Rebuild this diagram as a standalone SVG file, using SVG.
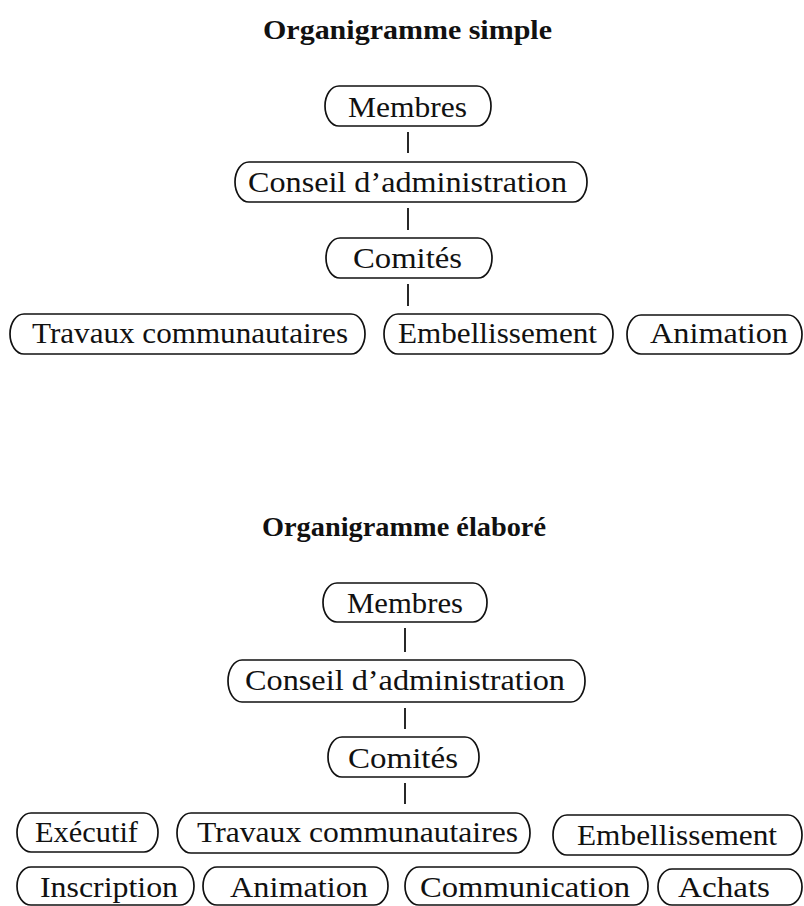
<svg xmlns="http://www.w3.org/2000/svg" width="804" height="906" viewBox="0 0 804 906">
<style>
.bg{fill:#ffffff}
.box{fill:#ffffff;stroke:#111;stroke-width:1.7}
.t{font-family:"Liberation Serif","Times New Roman",serif;font-size:29px;fill:#111}
.title{font-family:"Liberation Serif","Times New Roman",serif;font-size:28px;font-weight:bold;fill:#111}
.con line{stroke:#111;stroke-width:1.8}
</style>
<rect class="bg" x="0" y="0" width="804" height="906"/>

<text class="title" x="263" y="39" textLength="289" lengthAdjust="spacingAndGlyphs">Organigramme simple</text>
<text class="title" x="262" y="536" textLength="284" lengthAdjust="spacingAndGlyphs">Organigramme élaboré</text>

<g class="con" id="connectors">
  <line x1="408" y1="132" x2="408" y2="153"/>
  <line x1="408" y1="208" x2="408" y2="230"/>
  <line x1="408" y1="284" x2="408" y2="306"/>
  <line x1="405" y1="628" x2="405" y2="652"/>
  <line x1="405" y1="708" x2="405" y2="729"/>
  <line x1="405" y1="783" x2="405" y2="804"/>
</g>

<!-- Simple chart -->
<g id="s_membres"><rect class="box" x="325" y="86" width="166" height="40" rx="14" ry="20"/><text class="t" x="348" y="117" textLength="119" lengthAdjust="spacingAndGlyphs">Membres</text></g>
<g id="s_conseil"><rect class="box" x="235" y="162" width="352" height="40" rx="14" ry="20"/><text class="t" x="248" y="192" textLength="319" lengthAdjust="spacingAndGlyphs">Conseil d’administration</text></g>
<g id="s_comites"><rect class="box" x="326" y="238" width="166" height="40" rx="14" ry="20"/><text class="t" x="353" y="268" textLength="109" lengthAdjust="spacingAndGlyphs">Comités</text></g>
<g id="s_travaux"><rect class="box" x="10" y="314" width="355" height="40" rx="14" ry="20"/><text class="t" x="32" y="343" textLength="316" lengthAdjust="spacingAndGlyphs">Travaux communautaires</text></g>
<g id="s_embellissement"><rect class="box" x="384" y="314" width="229" height="40" rx="14" ry="20"/><text class="t" x="398" y="343" textLength="199" lengthAdjust="spacingAndGlyphs">Embellissement</text></g>
<g id="s_animation"><rect class="box" x="627" y="315" width="175" height="39" rx="14" ry="20"/><text class="t" x="650" y="343" textLength="138" lengthAdjust="spacingAndGlyphs">Animation</text></g>

<!-- Elaborate chart -->
<g id="e_membres"><rect class="box" x="323" y="583" width="164" height="39" rx="14" ry="20"/><text class="t" x="347" y="613" textLength="116" lengthAdjust="spacingAndGlyphs">Membres</text></g>
<g id="e_conseil"><rect class="box" x="228" y="660" width="357" height="42" rx="14" ry="21"/><text class="t" x="245" y="690" textLength="320" lengthAdjust="spacingAndGlyphs">Conseil d’administration</text></g>
<g id="e_comites"><rect class="box" x="328" y="737" width="151" height="40" rx="14" ry="20"/><text class="t" x="348" y="768" textLength="110" lengthAdjust="spacingAndGlyphs">Comités</text></g>
<g id="e_executif"><rect class="box" x="17" y="813" width="141" height="39" rx="14" ry="20"/><text class="t" x="35" y="842" textLength="103" lengthAdjust="spacingAndGlyphs">Exécutif</text></g>
<g id="e_travaux"><rect class="box" x="177" y="813" width="353" height="40" rx="14" ry="20"/><text class="t" x="197" y="842" textLength="321" lengthAdjust="spacingAndGlyphs">Travaux communautaires</text></g>
<g id="e_embellissement"><rect class="box" x="553" y="815" width="249" height="40" rx="14" ry="20"/><text class="t" x="577" y="845" textLength="200" lengthAdjust="spacingAndGlyphs">Embellissement</text></g>
<g id="e_inscription"><rect class="box" x="17" y="867" width="177" height="38" rx="14" ry="19"/><text class="t" x="40" y="897" textLength="138" lengthAdjust="spacingAndGlyphs">Inscription</text></g>
<g id="e_animation"><rect class="box" x="203" y="867" width="185" height="38" rx="14" ry="19"/><text class="t" x="230" y="897" textLength="138" lengthAdjust="spacingAndGlyphs">Animation</text></g>
<g id="e_communication"><rect class="box" x="405" y="867" width="243" height="38" rx="14" ry="19"/><text class="t" x="420" y="897" textLength="210" lengthAdjust="spacingAndGlyphs">Communication</text></g>
<g id="e_achats"><rect class="box" x="658" y="869" width="144" height="36" rx="14" ry="18"/><text class="t" x="678" y="897" textLength="92" lengthAdjust="spacingAndGlyphs">Achats</text></g>
</svg>
